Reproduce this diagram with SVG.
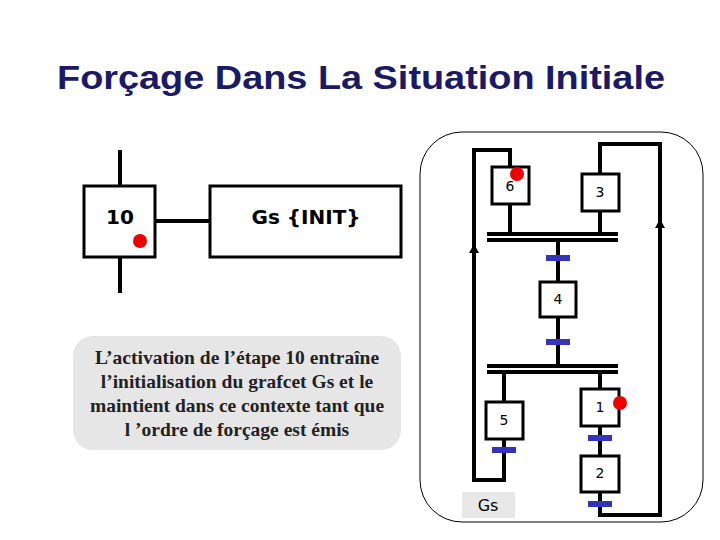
<svg xmlns="http://www.w3.org/2000/svg" width="720" height="540" viewBox="0 0 720 540">
<style>
.s{fill:#fff;stroke:#000;stroke-width:3}
.t{font-family:"DejaVu Sans",Verdana,sans-serif;font-size:14px;text-anchor:middle}
.l{fill:none;stroke:#000;stroke-width:4}
.tr{fill:#3333bb}
.dot{fill:#e00}
</style>
<defs><path id="ah" d="M-5,9L0,0L5,9z"/></defs>
<rect width="720" height="540" fill="#fff"/>
<text x="57" y="89" textLength="608" lengthAdjust="spacingAndGlyphs" font-family="Liberation Sans,Arial,sans-serif" font-weight="bold" font-size="33" fill="#1a1a66">Forçage Dans La Situation Initiale</text>
<g id="conn">
<path class="l" d="M120,150V185M120,257V293M155,221H210"/>
<path class="l" d="M510,167V150H474V480H504V450M600,174V144H660V515H600V507"/>
<use href="#ah" x="474" y="244"/>
<use href="#ah" x="660" y="219"/>
<path class="l" d="M510,204V234M600,211V234M487,234H618M487,240H618M558,240V282M558,317V366M487,366H618M487,372H618M504,372V402M600,372V389M600,426V456M600,492V507M504,439V450"/>
<g class="tr"><rect x="546" y="255" width="24" height="6"/><rect x="546" y="339" width="24" height="6"/><rect x="492" y="447" width="24" height="6"/><rect x="588" y="435" width="24" height="6"/><rect x="588" y="501" width="24" height="6"/></g>
</g>
<rect x="420" y="132" width="283" height="390" rx="42" fill="none" stroke="#000" stroke-width="1"/>
<g id="n10"><rect class="s" x="84" y="186" width="71" height="71"/><text x="120" y="224" font-family="DejaVu Sans,sans-serif" font-weight="bold" font-size="20" text-anchor="middle">10</text><circle class="dot" cx="140" cy="241" r="7"/></g>
<g id="init"><rect class="s" x="210" y="186" width="191" height="71"/><text x="306" y="224" font-family="DejaVu Sans,sans-serif" font-weight="bold" font-size="20" text-anchor="middle">Gs {INIT}</text></g>
<g id="note"><rect x="73" y="336" width="328" height="114" rx="20" fill="#e6e6e6"/>
<g font-family="Liberation Serif,serif" font-weight="bold" font-size="19.5" text-anchor="middle" fill="#222"><text x="237" y="364">L’activation de l’étape 10 entraîne</text><text x="237" y="388">l’initialisation du grafcet Gs et le</text><text x="237" y="412">maintient dans ce contexte tant que</text><text x="237" y="436">l ’ordre de forçage est émis</text></g></g>
<g id="s6"><rect class="s" x="492" y="167" width="37" height="37" stroke-width="4"/><text class="t" x="510" y="191">6</text><circle class="dot" cx="517" cy="174" r="7"/></g>
<g id="s3"><rect class="s" x="582" y="174" width="37" height="37"/><text class="t" x="600" y="197">3</text></g>
<g id="s4"><rect class="s" x="540" y="282" width="36" height="35"/><text class="t" x="558" y="304">4</text></g>
<g id="s5"><rect class="s" x="486" y="402" width="37" height="37"/><text class="t" x="504" y="425">5</text></g>
<g id="s1"><rect class="s" x="581" y="389" width="38" height="37" stroke-width="4"/><text class="t" x="600" y="412">1</text><circle class="dot" cx="620" cy="403" r="7"/></g>
<g id="s2"><rect class="s" x="581" y="456" width="38" height="36"/><text class="t" x="600" y="478">2</text></g>
<g id="gs"><rect x="462" y="492" width="53" height="26" fill="#e8e8e8"/><text x="488" y="511" font-family="DejaVu Sans,sans-serif" font-size="16" text-anchor="middle">Gs</text></g>
</svg>
